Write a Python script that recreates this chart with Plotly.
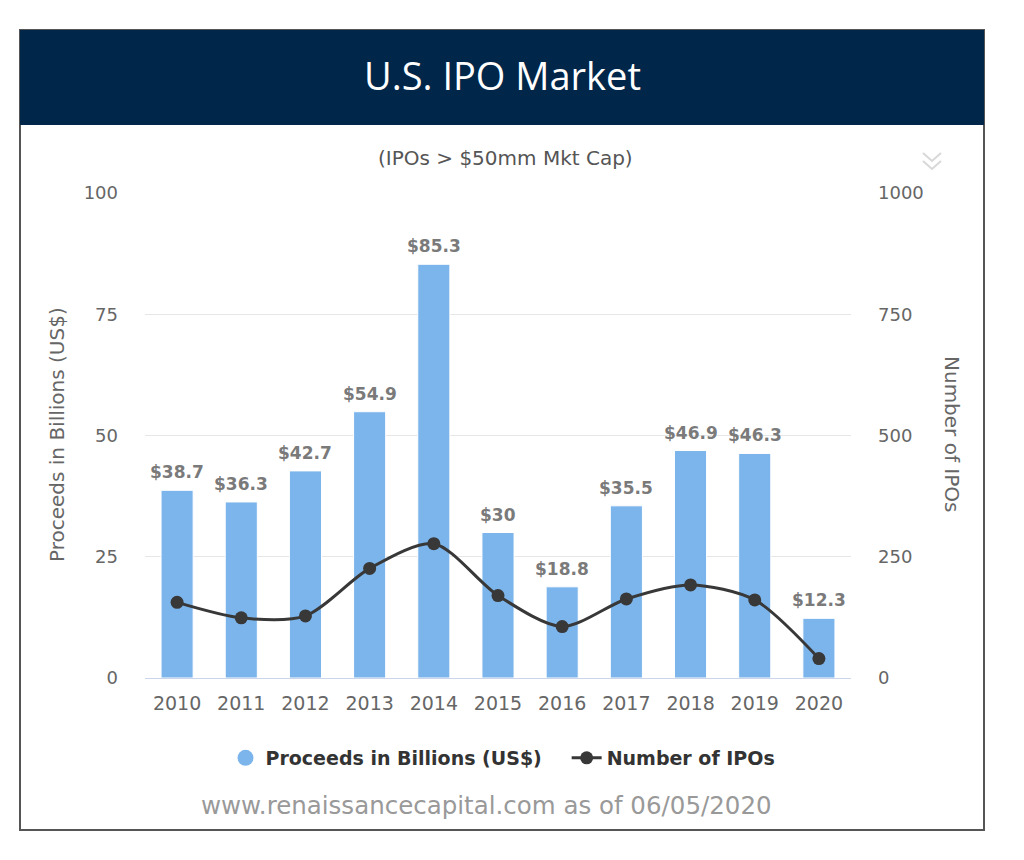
import plotly.graph_objects as go

years = ["2010", "2011", "2012", "2013", "2014", "2015", "2016", "2017", "2018", "2019", "2020"]
proceeds = [38.7, 36.3, 42.7, 54.9, 85.3, 30, 18.8, 35.5, 46.9, 46.3, 12.3]
num_ipos = [156, 124, 128, 226, 277, 170, 106, 163, 192, 161, 40]
left_ticks = [0, 25, 50, 75, 100]
right_ticks = [0, 250, 500, 750, 1000]

W, H = 1024, 860
OFF = 8  # page body margin
X0, X1, Y0, Y1 = 145, 851, 193, 678  # plot area in reference pixels


def px(x):
    return (x - X0) / (X1 - X0)


def py(y):
    return (Y1 - y) / (Y1 - Y0)


FONT = "DejaVu Sans"
BLUE = "#7cb5ec"
DARK = "#383838"

fig = go.Figure()
fig.add_trace(go.Bar(
    x=years, y=proceeds, name="Proceeds in Billions (US$)",
    marker=dict(color=BLUE, line=dict(color="white", width=1)),
    showlegend=False, hoverinfo="x+y",
))
fig.add_trace(go.Scatter(
    x=[years[0]], y=[None], mode="markers", name="Proceeds in Billions (US$)   ",
    marker=dict(color=BLUE, size=17, symbol="circle"), showlegend=True, hoverinfo="skip",
))
fig.add_trace(go.Scatter(
    x=years, y=num_ipos, yaxis="y2", name="Number of IPOs",
    mode="lines+markers", line=dict(color=DARK, width=3, shape="spline", smoothing=0.8),
    marker=dict(color=DARK, size=13), cliponaxis=False,
))

annotations = []
for i, v in enumerate(proceeds):
    annotations.append(dict(
        x=i, y=v, xref="x", yref="y", text=f"${v:g}", showarrow=False,
        yanchor="bottom", yshift=6,
        font=dict(family=FONT, size=17, color="#7a7a7a", weight="bold"),
    ))

annotations += [
    dict(x=px(503), y=py(75.5), xref="paper", yref="paper", text="U.S. IPO Market",
         showarrow=False, xanchor="center", yanchor="middle",
         font=dict(family="Open Sans", size=38, color="white")),
    dict(x=px(505), y=py(158), xref="paper", yref="paper", text="(IPOs > $50mm Mkt Cap)",
         showarrow=False, xanchor="center", yanchor="middle",
         font=dict(family=FONT, size=20, color="#555555")),
    dict(x=px(57), y=py(435), xref="paper", yref="paper", text="Proceeds in Billions (US$)",
         showarrow=False, xanchor="center", yanchor="middle", textangle=-90,
         font=dict(family=FONT, size=20, color="#666666")),
    dict(x=px(952), y=py(434), xref="paper", yref="paper", text="Number of IPOs",
         showarrow=False, xanchor="center", yanchor="middle", textangle=90,
         font=dict(family=FONT, size=20, color="#666666")),
    dict(x=px(486), y=py(805), xref="paper", yref="paper",
         text="www.renaissancecapital.com as of 06/05/2020",
         showarrow=False, xanchor="center", yanchor="middle",
         font=dict(family=FONT, size=24.5, color="#999999")),
]

shapes = [
    dict(type="rect", xref="paper", yref="paper", x0=px(20), x1=px(984), y0=py(830), y1=py(30),
         line=dict(color="#555555", width=2), fillcolor="rgba(0,0,0,0)", layer="below"),
    dict(type="rect", xref="paper", yref="paper", x0=px(20), x1=px(984), y0=py(125), y1=py(30),
         line=dict(width=0), fillcolor="#002649", layer="below"),
    dict(type="path", xref="paper", yref="paper",
         path=f"M {px(923)} {py(153)} L {px(932)} {py(161)} L {px(941)} {py(153)}",
         line=dict(color="#d8d8d8", width=2)),
    dict(type="path", xref="paper", yref="paper",
         path=f"M {px(923)} {py(161)} L {px(932)} {py(169)} L {px(941)} {py(161)}",
         line=dict(color="#d8d8d8", width=2)),
]

fig.update_layout(
    width=W, height=H,
    margin=dict(l=X0 - OFF, r=W - (X1 - OFF), t=Y0 - OFF, b=H - (Y1 - OFF), autoexpand=False),
    paper_bgcolor="white", plot_bgcolor="white",
    font=dict(family=FONT, color="#666666"),
    bargap=0.5,
    xaxis=dict(type="category", categoryorder="array", categoryarray=years,
               range=[-0.5, len(years) - 0.5], autorange=False,
               showline=True, linecolor="#ccd6eb", linewidth=1,
               showgrid=False, ticks="", tickfont=dict(family=FONT, size=19, color="#666666"),
               ticklabelstandoff=8),
    yaxis=dict(range=[0, 100], tickvals=left_ticks, showgrid=True, gridcolor="#e6e6e6",
               zeroline=False, showline=False, ticks="",
               tickfont=dict(family=FONT, size=18, color="#666666"), ticklabelstandoff=26),
    yaxis2=dict(range=[0, 1000], tickvals=right_ticks, overlaying="y", side="right",
                showgrid=False, zeroline=False, showline=False, ticks="",
                tickfont=dict(family=FONT, size=18, color="#666666"), ticklabelstandoff=26),
    legend=dict(orientation="h", x=px(503), y=py(758), xanchor="center", yanchor="middle",
                font=dict(family=FONT, size=19, color="#333333", weight="bold"),
                itemwidth=30, bgcolor="rgba(0,0,0,0)"),
    annotations=annotations,
    shapes=shapes,
    showlegend=True,
)

fig.write_html("out.html")
